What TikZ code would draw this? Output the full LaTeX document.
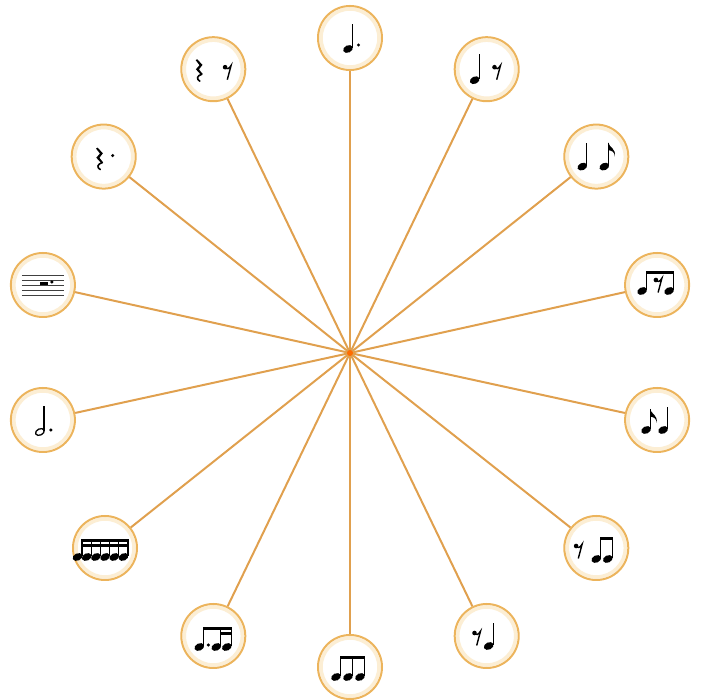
\documentclass[tikz,border=0pt]{standalone}
\definecolor{spoke}{RGB}{224,160,78}
\definecolor{ring}{RGB}{236,180,92}
\definecolor{glow}{RGB}{252,238,212}
\tikzset{
  bub/.style={circle, minimum size=64pt, inner sep=0pt, draw=ring, line width=2pt, fill=white,
    path picture={\draw[glow, line width=3.5pt] (path picture bounding box.center) circle (29pt);}},
  spk/.style={draw=spoke, line width=2pt},
  stemline/.style={line width=1.3pt},
  staffline/.style={line width=0.7pt, black!75},
}
% glyph helpers (local coordinates, y up)
\newcommand\Hd[2]{\fill (#1,#2) circle[x radius=5.1pt, y radius=3.6pt, rotate=25];}
\newcommand\Hh[2]{\draw[line width=1.3pt] (#1,#2) circle[x radius=4.6pt, y radius=3.1pt, rotate=25];}
\newcommand\St[3]{\draw[stemline] (#1,#2) -- (#1,#3);}
\newcommand\Qn[3]{\Hd{#1}{#2}\St{#1+4.5}{#2+1}{#3}}
\newcommand\Fl[2]{\fill (#1-0.6,#2) .. controls (#1+0.5,#2-5) and (#1+7.5,#2-6) .. (#1+6,#2-14) .. controls (#1+6.2,#2-9.5) and (#1+3,#2-8) .. (#1-0.6,#2-7.5) -- cycle;}
\newcommand\Bm[3]{\fill (#1-0.65,#3) rectangle (#2+0.65,#3-3.2);}
\newcommand\Dt[2]{\fill (#1,#2) circle (1.7pt);}
\newcommand\Er[2]{\fill (#1-2.2,#2+4) circle (2.3pt);
  \draw[line width=1.4pt] (#1-2.8,#2+3) .. controls (#1-0.5,#2+1.5) and (#1+2,#2+2.5) .. (#1+3.8,#2+5.8) -- (#1,#2-8.5);}
\newcommand\Qr[2]{\begin{scope}[shift={(#1,#2)}]
  \fill (-2.2,11) -- (3.2,5.3) -- (-0.3,0.8) -- (3.2,-3.6) -- (1.6,-4.6) -- (-3.4,0.9) -- (0.2,5) -- (-3.6,10) -- cycle;
  \draw[line width=1.6pt, line cap=round] (2.6,-4) .. controls (-2.5,-5.5) and (-3.2,-9) .. (0.6,-11);
  \end{scope}}
\begin{document}
\begin{tikzpicture}[x=1pt,y=1pt]
\useasboundingbox (0,0) rectangle (703,700);
\coordinate (c) at (350,347);
\node[bub] (n1) at (350,662) {};
\node[bub] (n2) at (213.3,630.8) {};
\node[bub] (n3) at (486.7,630.8) {};
\node[bub] (n4) at (103.7,543.4) {};
\node[bub] (n5) at (596.3,543.4) {};
\node[bub] (n6) at (42.9,415) {};
\node[bub] (n7) at (657.1,415) {};
\node[bub] (n8) at (42.9,280) {};
\node[bub] (n9) at (657.1,280) {};
\node[bub] (n10) at (105,152) {};
\node[bub] (n11) at (596.3,152) {};
\node[bub] (n12) at (213.3,64) {};
\node[bub] (n13) at (350,33) {};
\node[bub] (n14) at (486.7,64) {};
\foreach \n in {n1,n2,n3,n4,n5,n6,n7,n8,n9,n10,n11,n12,n13,n14}
  \draw[spk] (c) -- (\n);
\fill[orange!85!red] (c) circle (3pt);
% n1 dotted quarter
\begin{scope}[shift={(n1.center)}]
  \Qn{-2}{-11}{14} \Dt{8.5}{-7}
\end{scope}
% n2 quarter rest + eighth rest
\begin{scope}[shift={(n2.center)}]
  \Qr{-14}{-1} \Er{14}{-2}
\end{scope}
% n3 quarter + eighth rest
\begin{scope}[shift={(n3.center)}]
  \Qn{-12}{-11}{15} \Er{10}{-2}
\end{scope}
% n4 dotted quarter rest
\begin{scope}[shift={(n4.center)}]
  \Qr{-4}{-2} \Dt{9}{1}
\end{scope}
% n5 quarter + eighth
\begin{scope}[shift={(n5.center)}]
  \Qn{-14}{-10}{14} \Qn{8}{-10}{14} \Fl{12.5}{14}
\end{scope}
% n6 staff with half rest
\begin{scope}[shift={(n6.center)}]
  \foreach \yy in {10,5,0,-5,-10} \draw[staffline] (-21,\yy) -- (21,\yy);
  \fill (-3,0) rectangle (5,3.2);
  \Dt{9}{3}
\end{scope}
% n7 eighth, eighth rest, eighth beamed
\begin{scope}[shift={(n7.center)}]
  \Qn{-15}{-6}{14} \Qn{12}{-6}{14} \Bm{-10.5}{16.5}{14} \Er{1}{1}
\end{scope}
% n8 dotted half
\begin{scope}[shift={(n8.center)}]
  \Hh{-3}{-12} \St{1.2}{-11}{14} \Dt{8}{-10}
\end{scope}
% n9 eighth + quarter
\begin{scope}[shift={(n9.center)}]
  \Qn{-11}{-10}{11} \Fl{-6.5}{11} \Qn{6}{-10}{13}
\end{scope}
% n10 six sixteenths
\begin{scope}[shift={(n10.center)}]
  \foreach \i in {0,...,5} { \Qn{-27.5+9.2*\i}{-9}{9} }
  \Bm{-23}{23}{9} \Bm{-23}{23}{4.3}
\end{scope}
% n11 eighth rest + two eighths
\begin{scope}[shift={(n11.center)}]
  \Er{-18}{-2} \Qn{0}{-11}{11} \Qn{11.5}{-11}{11} \Bm{4.5}{16}{11}
\end{scope}
% n12 dotted eighth + sixteenths
\begin{scope}[shift={(n12.center)}]
  \Qn{-14}{-11}{9} \Dt{-5}{-9} \Qn{3}{-11}{9} \Qn{13.5}{-11}{9}
  \Bm{-9.5}{18}{9} \Bm{7.5}{18}{4.3}
\end{scope}
% n13 three eighths
\begin{scope}[shift={(n13.center)}]
  \Qn{-14}{-10}{11} \Qn{-2}{-10}{11} \Qn{10}{-10}{11} \Bm{-9.5}{14.5}{11}
\end{scope}
% n14 eighth rest + quarter
\begin{scope}[shift={(n14.center)}]
  \Er{-10}{-1} \Qn{2}{-10}{13}
\end{scope}
\end{tikzpicture}
\end{document}
